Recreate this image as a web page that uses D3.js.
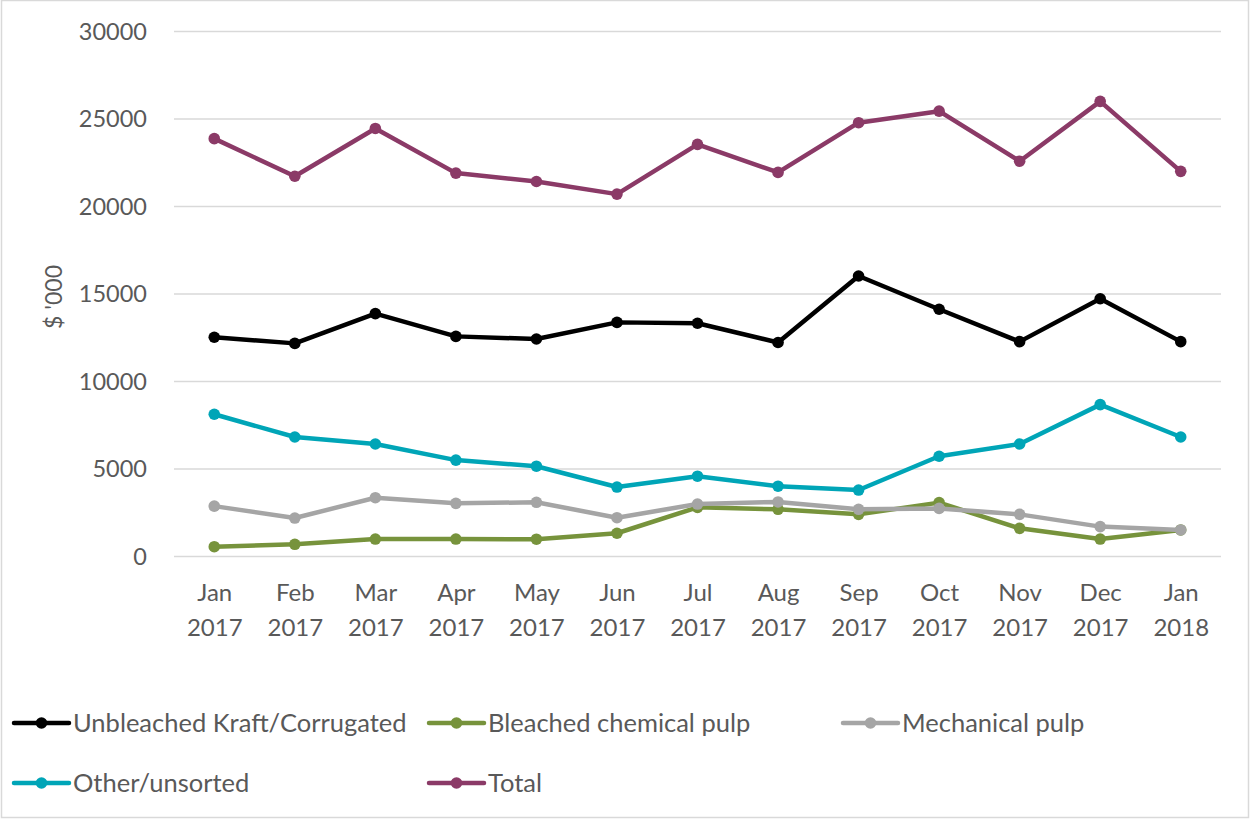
<!DOCTYPE html>
<html><head><meta charset="utf-8">
<script src="https://cdn.jsdelivr.net/npm/d3@7"></script>
<style>
html,body{margin:0;padding:0;background:#fff;}
svg text{font-family:Lato,"Open Sans",sans-serif;fill:#595959;}
</style></head>
<body><svg id="c" width="1250" height="819"></svg>
<script>
const months = ["Jan 2017","Feb 2017","Mar 2017","Apr 2017","May 2017","Jun 2017","Jul 2017","Aug 2017","Sep 2017","Oct 2017","Nov 2017","Dec 2017","Jan 2018"];
const unbleached = [12500,12150,13850,12550,12400,13350,13300,12200,16000,14100,12250,14700,12250];
const bleached   = [530,670,970,970,960,1300,2780,2670,2380,3050,1580,970,1490];
const mechanical = [2850,2170,3330,3010,3070,2190,2970,3090,2670,2720,2380,1680,1490];
const other      = [8100,6800,6400,5480,5130,3940,4560,3990,3770,5700,6400,8650,6800];
const total      = [23850,21700,24430,21880,21400,20680,23520,21920,24760,25420,22560,25980,21980];
const yTicks = [0,5000,10000,15000,20000,25000,30000];
const seriesNames = ["Unbleached Kraft/Corrugated","Bleached chemical pulp","Mechanical pulp","Other/unsorted","Total"];
const seriesColors = ["#000000","#77933C","#A5A5A5","#00A5B7","#8B3A67"];
const seriesData = [unbleached,bleached,mechanical,other,total];

(function(){
const svg = d3.select("#c");
svg.append("rect").attr("x",1.5).attr("y",0.5).attr("width",1247).attr("height",817)
  .attr("fill","#fff").attr("stroke","#d9d9d9").attr("stroke-width",1.5);

const pl=174,pr=1221,pt=31,pb=556;
const x = d3.scalePoint().domain(months).range([pl,pr]).padding(0.5);
const y = d3.scaleLinear().domain([0,30000]).range([pb,pt]);

const yAxis = svg.append("g").attr("transform",`translate(${pl},0)`)
  .call(d3.axisLeft(y).tickValues(yTicks).tickSize(-(pr-pl)).tickFormat(d3.format("d")));
yAxis.select(".domain").remove();
yAxis.selectAll("line").attr("stroke","#d9d9d9").attr("stroke-width",1.5);
yAxis.selectAll("text").attr("x",-27).attr("font-size",23.5).attr("dy","0.35em");

const xAxis = svg.append("g").attr("transform",`translate(0,${pb})`).call(d3.axisBottom(x).tickSize(0));
xAxis.select(".domain").remove();
xAxis.selectAll("text").each(function(d){
  const t=d3.select(this); t.text(null).attr("font-size",24).attr("y",0).attr("dy",null);
  const parts=d.split(" ");
  t.append("tspan").attr("x",0).attr("y",45).text(parts[0]);
  t.append("tspan").attr("x",0).attr("y",80).text(parts[1]);
});

svg.append("text").attr("transform","translate(62,297) rotate(-90)")
  .attr("text-anchor","middle").attr("font-size",23).text("$ '000");

const line = d3.line().x((d,i)=>x(months[i])).y(d=>y(d));
seriesData.forEach((arr,k)=>{
  const g=svg.append("g");
  g.append("path").datum(arr).attr("d",line).attr("fill","none")
    .attr("stroke",seriesColors[k]).attr("stroke-width",4.5).attr("stroke-linejoin","round");
  g.selectAll("circle").data(arr).join("circle")
    .attr("cx",(d,i)=>x(months[i])).attr("cy",d=>y(d)).attr("r",5.8).attr("fill",seriesColors[k]);
});

const legendPos = [[14,723],[429,723],[843,723],[14,783],[429,783]];
seriesNames.forEach((n,k)=>{
  const [lx,ly]=legendPos[k];
  const g=svg.append("g").attr("transform",`translate(${lx},${ly})`);
  g.append("line").attr("x1",0).attr("x2",55).attr("y1",0).attr("y2",0)
    .attr("stroke",seriesColors[k]).attr("stroke-width",4.5).attr("stroke-linecap","round");
  g.append("circle").attr("cx",27.5).attr("cy",0).attr("r",5.8).attr("fill",seriesColors[k]);
  g.append("text").attr("x",59).attr("y",0).attr("dy","0.35em").attr("font-size",25.5).text(n);
});
})();
</script></body></html>
